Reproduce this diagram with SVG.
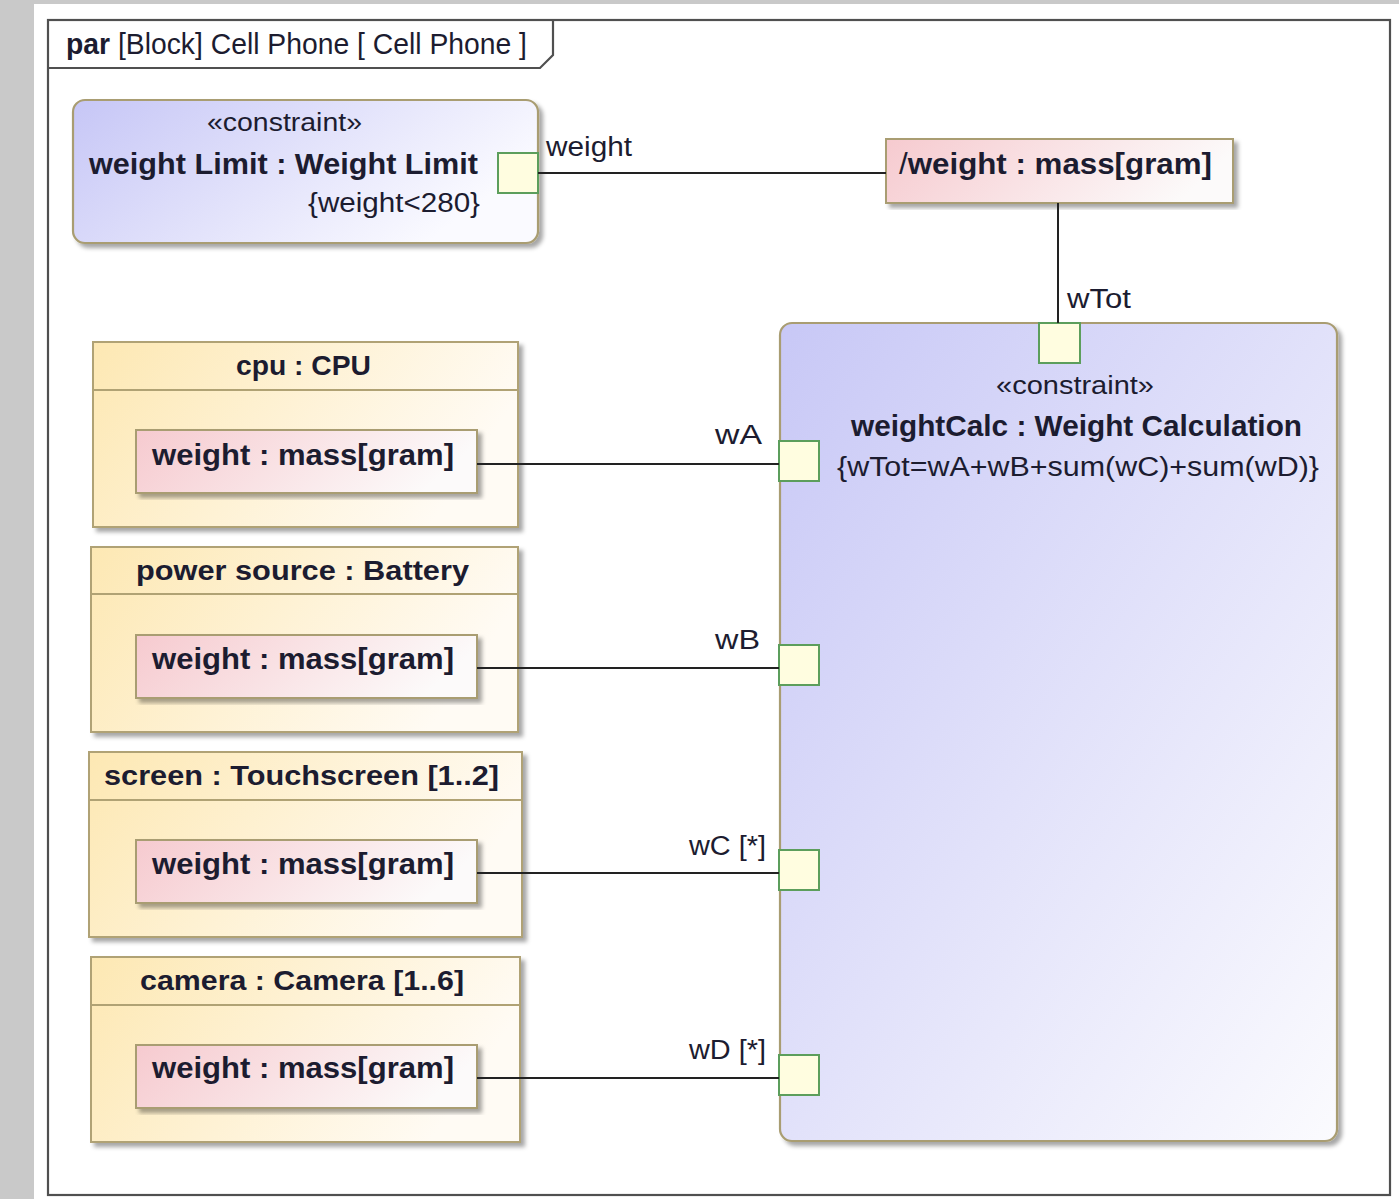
<svg xmlns="http://www.w3.org/2000/svg" width="1399" height="1199" viewBox="0 0 1399 1199">
<style>
text{font-family:"Liberation Sans",Arial,sans-serif;fill:#1c1c30}
.b{font-weight:bold}
.frame{fill:none;stroke:#505050;stroke-width:2.2}
.cons{stroke:#a99d72;stroke-width:2.2}
.part{stroke:#b0a274;stroke-width:2;fill:url(#gPart)}
.prop{stroke:#a99d72;stroke-width:2;fill:url(#gProp)}
.port{fill:#fffde0;stroke:#5c9e5c;stroke-width:2}
.hdr{stroke:#b0a274;stroke-width:2}
.conn line{stroke:#222;stroke-width:2}
</style>
<defs>
<linearGradient id="gCons1" x1="0" y1="0" x2="1" y2="0.4"><stop offset="0" stop-color="#c6c6f6"/><stop offset="1" stop-color="#fafaff"/></linearGradient>
<linearGradient id="gCons2" x1="0" y1="0" x2="1" y2="1"><stop offset="0" stop-color="#c8c8f6"/><stop offset="1" stop-color="#fbfbfe"/></linearGradient>
<linearGradient id="gPart" x1="0" y1="0" x2="1" y2="0.3"><stop offset="0" stop-color="#fde8b3"/><stop offset="1" stop-color="#fffbf4"/></linearGradient>
<linearGradient id="gProp" x1="0" y1="0" x2="1" y2="0.2"><stop offset="0" stop-color="#f6cacf"/><stop offset="1" stop-color="#fcfafa"/></linearGradient>
<filter id="sh" x="-5%" y="-5%" width="115%" height="115%"><feDropShadow dx="4" dy="4" stdDeviation="2" flood-color="#000" flood-opacity="0.35"/></filter>
</defs>
<rect x="0" y="0" width="1399" height="1199" fill="#c9c9c9"/>
<rect x="34" y="4" width="1365" height="1195" fill="#ffffff"/>
<g id="frame">
<rect class="frame" x="48" y="20" width="1342" height="1175"/>
<path class="frame" d="M48,68 H540 L553,55 V20"/>
<text x="66" y="54" font-size="29" textLength="461" lengthAdjust="spacingAndGlyphs"><tspan class="b">par</tspan> [Block] Cell Phone [ Cell Phone ]</text>
</g>
<g id="weightLimit">
<rect class="cons" x="73" y="100" width="465" height="143" rx="12" fill="url(#gCons1)" filter="url(#sh)"/>
<text x="207" y="131" font-size="26" textLength="155" lengthAdjust="spacingAndGlyphs">«constraint»</text>
<text class="b" x="89" y="174" font-size="30" textLength="389" lengthAdjust="spacingAndGlyphs">weight Limit : Weight Limit</text>
<text x="308" y="212" font-size="27" textLength="172" lengthAdjust="spacingAndGlyphs">{weight&lt;280}</text>
<rect class="port" x="498" y="153" width="40" height="40"/>
<text x="546" y="156" font-size="27" textLength="86" lengthAdjust="spacingAndGlyphs">weight</text>
</g>
<g id="totalWeight">
<rect class="prop" x="886" y="139" width="347" height="64" filter="url(#sh)"/>
<text class="b" x="899" y="174" font-size="29" textLength="313" lengthAdjust="spacingAndGlyphs"><tspan font-weight="normal">/</tspan>weight : mass[gram]</text>
</g>
<g id="weightCalc">
<rect class="cons" x="780" y="323" width="557" height="818" rx="12" fill="url(#gCons2)" filter="url(#sh)"/>
<text x="996" y="394" font-size="26" textLength="158" lengthAdjust="spacingAndGlyphs">«constraint»</text>
<text class="b" x="851" y="436" font-size="30" textLength="451" lengthAdjust="spacingAndGlyphs">weightCalc : Weight Calculation</text>
<text x="837" y="476" font-size="27" textLength="482" lengthAdjust="spacingAndGlyphs">{wTot=wA+wB+sum(wC)+sum(wD)}</text>
<rect class="port" x="1039" y="323" width="41" height="40"/>
<text x="1067" y="308" font-size="27" textLength="64" lengthAdjust="spacingAndGlyphs">wTot</text>
<rect class="port" x="779" y="441" width="40" height="40"/>
<text x="715" y="444" font-size="27" textLength="47" lengthAdjust="spacingAndGlyphs">wA</text>
<rect class="port" x="779" y="645" width="40" height="40"/>
<text x="715" y="649" font-size="27" textLength="45" lengthAdjust="spacingAndGlyphs">wB</text>
<rect class="port" x="779" y="850" width="40" height="40"/>
<text x="689" y="855" font-size="27" textLength="77" lengthAdjust="spacingAndGlyphs">wC [*]</text>
<rect class="port" x="779" y="1055" width="40" height="40"/>
<text x="689" y="1059" font-size="27" textLength="77" lengthAdjust="spacingAndGlyphs">wD [*]</text>
</g>
<g id="cpu">
<rect class="part" x="93" y="342" width="425" height="185" filter="url(#sh)"/>
<line class="hdr" x1="93" y1="390" x2="518" y2="390"/>
<text class="b" x="236" y="375" font-size="28" textLength="135" lengthAdjust="spacingAndGlyphs">cpu : CPU</text>
<rect class="prop" x="136" y="430" width="341" height="63" filter="url(#sh)"/>
<text class="b" x="152" y="465" font-size="30" textLength="302" lengthAdjust="spacingAndGlyphs">weight : mass[gram]</text>
</g>
<g id="powerSource">
<rect class="part" x="91" y="547" width="427" height="185" filter="url(#sh)"/>
<line class="hdr" x1="91" y1="594" x2="518" y2="594"/>
<text class="b" x="136" y="580" font-size="28" textLength="333" lengthAdjust="spacingAndGlyphs">power source : Battery</text>
<rect class="prop" x="136" y="635" width="341" height="63" filter="url(#sh)"/>
<text class="b" x="152" y="669" font-size="30" textLength="302" lengthAdjust="spacingAndGlyphs">weight : mass[gram]</text>
</g>
<g id="screen">
<rect class="part" x="89" y="752" width="433" height="185" filter="url(#sh)"/>
<line class="hdr" x1="89" y1="800" x2="522" y2="800"/>
<text class="b" x="104" y="785" font-size="28" textLength="395" lengthAdjust="spacingAndGlyphs">screen : Touchscreen [1..2]</text>
<rect class="prop" x="136" y="840" width="341" height="63" filter="url(#sh)"/>
<text class="b" x="152" y="874" font-size="30" textLength="302" lengthAdjust="spacingAndGlyphs">weight : mass[gram]</text>
</g>
<g id="camera">
<rect class="part" x="91" y="957" width="429" height="185" filter="url(#sh)"/>
<line class="hdr" x1="91" y1="1005" x2="520" y2="1005"/>
<text class="b" x="140" y="990" font-size="28" textLength="324" lengthAdjust="spacingAndGlyphs">camera : Camera [1..6]</text>
<rect class="prop" x="136" y="1045" width="341" height="63" filter="url(#sh)"/>
<text class="b" x="152" y="1078" font-size="30" textLength="302" lengthAdjust="spacingAndGlyphs">weight : mass[gram]</text>
</g>
<g class="conn" id="connectors">
<line x1="538" y1="173" x2="886" y2="173"/>
<line x1="1058" y1="203" x2="1058" y2="323"/>
<line x1="477" y1="464" x2="779" y2="464"/>
<line x1="477" y1="668" x2="779" y2="668"/>
<line x1="477" y1="873" x2="779" y2="873"/>
<line x1="477" y1="1078" x2="779" y2="1078"/>
</g>
</svg>
